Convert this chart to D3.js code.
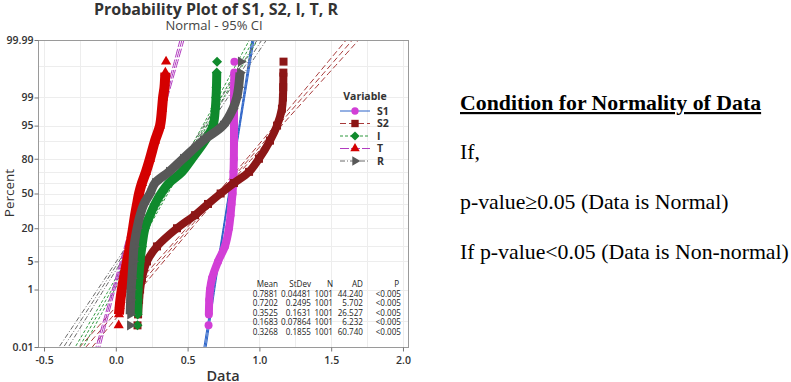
<!DOCTYPE html>
<html><head><meta charset="utf-8">
<script src="https://cdn.jsdelivr.net/npm/d3@7"></script>
<style>
html,body{margin:0;padding:0;background:#fff;}
svg{display:block;}
</style></head><body>
<svg id="c" width="791" height="382"></svg>
<script>
// ---------------- DATA ----------------
const seriesNames = ["S1", "S2", "I", "T", "R"];
// plotting positions (percent) at which each series' quantiles were read
const percentLevels = [0.07, 0.17, 0.5, 1, 2, 5, 10, 20, 30, 40, 50, 60, 70, 80, 90, 95, 98, 99, 99.5, 99.83, 99.93];
const valuesS1 = [0.646, 0.648, 0.651, 0.656, 0.670, 0.712, 0.760, 0.788, 0.799, 0.806, 0.813, 0.817, 0.820, 0.822, 0.823, 0.823, 0.823, 0.823, 0.824, 0.825, 0.826];
const valuesS2 = [0.151, 0.155, 0.162, 0.169, 0.182, 0.217, 0.287, 0.426, 0.552, 0.642, 0.730, 0.823, 0.928, 0.997, 1.074, 1.123, 1.157, 1.164, 1.166, 1.167, 1.168];
const valuesI  = [0.151, 0.152, 0.153, 0.155, 0.160, 0.169, 0.182, 0.203, 0.238, 0.273, 0.315, 0.370, 0.461, 0.530, 0.621, 0.677, 0.693, 0.698, 0.701, 0.703, 0.705];
const valuesT  = [0.020, 0.022, 0.032, 0.042, 0.056, 0.078, 0.099, 0.120, 0.134, 0.148, 0.162, 0.182, 0.210, 0.238, 0.273, 0.308, 0.322, 0.329, 0.339, 0.345, 0.350];
const valuesR  = [0.099, 0.100, 0.103, 0.106, 0.112, 0.120, 0.127, 0.148, 0.169, 0.196, 0.238, 0.273, 0.370, 0.468, 0.607, 0.746, 0.816, 0.843, 0.855, 0.865, 0.871];
const means   = [0.7881, 0.7202, 0.3525, 0.1683, 0.3268];
const stdevs  = [0.04481, 0.2495, 0.1631, 0.07864, 0.1855];
const counts  = [1001, 1001, 1001, 1001, 1001];
const adValues = ["44.240", "5.702", "26.527", "6.232", "60.740"];
const pValues  = ["<0.005", "<0.005", "<0.005", "<0.005", "<0.005"];
const meanLabels  = ["0.7881", "0.7202", "0.3525", "0.1683", "0.3268"];
const stdevLabels = ["0.04481", "0.2495", "0.1631", "0.07864", "0.1855"];
const xTicks = [-0.5, 0, 0.5, 1, 1.5, 2];
const yTickPercents = [0.01, 1, 5, 20, 50, 80, 95, 99, 99.99];
const yTickLabels = ["0.01", "1", "5", "20", "50", "80", "95", "99", "99.99"];
const xGrid = [-0.5, -0.25, 0, 0.25, 0.5, 0.75, 1, 1.25, 1.5, 1.75, 2];
const yGridPercents = [0.1, 1, 5, 10, 20, 30, 40, 50, 60, 70, 80, 90, 95, 99, 99.9];

// ---------------- STYLE ----------------
const styles = [
  {marker: "#d23fd6", line: "#2a62c8", dash: null,      sym: "circle",   size: 50, band: 8},
  {marker: "#8c1616", line: "#a83a3a", dash: "6,3",     sym: "square",   size: 64, band: 8},
  {marker: "#0f8a2c", line: "#2f9a3f", dash: "3,2",     sym: "diamond",  size: 50, band: 9},
  {marker: "#d40000", line: "#b23cc0", dash: "9,2",     sym: "triangle", size: 45, band: 10},
  {marker: "#585858", line: "#6a6a6a", dash: "5,2,1,2", sym: "rtri",     size: 45, band: 9}
];
const seriesValues = [valuesS1, valuesS2, valuesI, valuesT, valuesR];

function qnorm(p){
  const a=[-3.969683028665376e+01,2.209460984245205e+02,-2.759285104469687e+02,1.383577518672690e+02,-3.066479806614716e+01,2.506628277459239e+00];
  const b=[-5.447609879822406e+01,1.615858368580409e+02,-1.556989798598866e+02,6.680131188771972e+01,-1.328068155288572e+01];
  const c=[-7.784894002430293e-03,-3.223964580411365e-01,-2.400758277161838e+00,-2.549732539343734e+00,4.374664141464968e+00,2.938163982698783e+00];
  const d=[7.784695709041462e-03,3.224671290700398e-01,2.445134137142996e+00,3.754408661907416e+00];
  const pl=0.02425, ph=1-pl; let q,r;
  if(p<pl){q=Math.sqrt(-2*Math.log(p));return (((((c[0]*q+c[1])*q+c[2])*q+c[3])*q+c[4])*q+c[5])/((((d[0]*q+d[1])*q+d[2])*q+d[3])*q+1);}
  if(p<=ph){q=p-0.5;r=q*q;return (((((a[0]*r+a[1])*r+a[2])*r+a[3])*r+a[4])*r+a[5])*q/(((((b[0]*r+b[1])*r+b[2])*r+b[3])*r+b[4])*r+1);}
  q=Math.sqrt(-2*Math.log(1-p));return -(((((c[0]*q+c[1])*q+c[2])*q+c[3])*q+c[4])*q+c[5])/((((d[0]*q+d[1])*q+d[2])*q+d[3])*q+1);
}

const L = 38, R = 408, T = 40, B = 347;
const zMax = qnorm(0.9999);
const x = d3.scaleLinear().domain([-0.542, 2.035]).range([L, R]);
const yz = d3.scaleLinear().domain([-zMax, zMax]).range([B, T]);
const yp = p => yz(qnorm(p / 100));

const svg = d3.select("#c");
const font = "'Open Sans', 'Noto Sans', sans-serif";
const txt = "#333";

function symPath(s, size){
  if (s === "circle") return d3.symbol(d3.symbolCircle, size)();
  if (s === "square" || s === "diamond") return d3.symbol(d3.symbolSquare, size)();
  return d3.symbol(d3.symbolTriangle, size)();
}
function symRot(s){ return s === "diamond" ? 45 : (s === "rtri" ? 90 : 0); }

svg.append("clipPath").attr("id", "clip").append("rect")
  .attr("x", L).attr("y", T).attr("width", R - L).attr("height", B - T);

// gridlines
const grid = svg.append("g").attr("stroke", "#ededed").attr("stroke-width", 1);
grid.selectAll("line.gx").data(xGrid).join("line")
  .attr("x1", d => Math.round(x(d)) + 0.5).attr("x2", d => Math.round(x(d)) + 0.5)
  .attr("y1", T).attr("y2", B);
grid.selectAll("line.gy").data(yGridPercents).join("line")
  .attr("x1", L).attr("x2", R)
  .attr("y1", d => Math.round(yp(d)) + 0.5).attr("y2", d => Math.round(yp(d)) + 0.5);

// fitted lines with 95% CI
const zs = d3.range(-3.9, 3.91, 0.1);
const fitG = svg.append("g").attr("clip-path", "url(#clip)");
seriesNames.forEach((name, i) => {
  const m = means[i], s = stdevs[i], n = counts[i], st = styles[i];
  const hw = z => 1.96 * s * Math.sqrt((1 + z * z / 2) / n);
  const mk = f => d3.line().x(z => x(f(z))).y(z => yz(z))(zs);
  [z => m + s * z, z => m + s * z - hw(z), z => m + s * z + hw(z)].forEach(f => {
    fitG.append("path").attr("d", mk(f)).attr("fill", "none")
      .attr("stroke", st.line).attr("stroke-width", 1)
      .attr("stroke-dasharray", st.dash);
  });
});

// data points
const dataG = svg.append("g").attr("clip-path", "url(#clip)");
seriesNames.forEach((name, i) => {
  const st = styles[i];
  const pts = percentLevels.map((p, k) => ({p, v: seriesValues[i][k]}));
  const inner = pts.slice(1, pts.length - 1);
  dataG.append("path")
    .attr("d", d3.line().x(d => x(d.v)).y(d => yp(d.p)).curve(d3.curveCatmullRom.alpha(0.5))(inner))
    .attr("fill", "none").attr("stroke", st.marker).attr("stroke-width", st.band)
    .attr("stroke-linejoin", "round").attr("stroke-linecap", "butt");
  dataG.selectAll(null).data(pts).join("path")
    .attr("d", symPath(st.sym, st.size))
    .attr("transform", d => `translate(${x(d.v)},${yp(d.p)}) rotate(${symRot(st.sym)})`)
    .attr("fill", st.marker);
});

// frame
svg.append("rect").attr("x", L + 0.5).attr("y", T + 0.5).attr("width", R - L).attr("height", B - T)
  .attr("fill", "none").attr("stroke", "#9a9a9a").attr("stroke-width", 1);

// axes
const xAxis = svg.append("g").attr("transform", `translate(0,${B + 0.5})`)
  .call(d3.axisBottom(x).tickValues(xTicks).tickFormat(d => d.toFixed(1)).tickSize(4).tickSizeOuter(0));
xAxis.select(".domain").remove();
xAxis.selectAll("line").attr("stroke", "#777");
xAxis.selectAll("text").attr("font-family", font).attr("font-size", 10.5).attr("font-weight", 600)
  .attr("fill", txt).attr("dy", "0.9em");

const yAxis = svg.append("g").attr("transform", `translate(${L + 0.5},0)`)
  .call(d3.axisLeft(yz).tickValues(yTickPercents.map(p => qnorm(p / 100)))
    .tickFormat((d, k) => yTickLabels[k]).tickSize(4).tickSizeOuter(0));
yAxis.select(".domain").remove();
yAxis.selectAll("line").attr("stroke", "#777");
yAxis.selectAll("text").attr("font-family", font).attr("font-size", 10.5).attr("font-weight", 600)
  .attr("fill", txt).attr("x", -5);

// titles
svg.append("text").attr("x", 216).attr("y", 15).attr("text-anchor", "middle")
  .attr("font-family", font).attr("font-size", 16).attr("font-weight", 700).attr("fill", txt)
  .text("Probability Plot of S1, S2, I, T, R");
svg.append("text").attr("x", 214).attr("y", 30).attr("text-anchor", "middle")
  .attr("font-family", font).attr("font-size", 13).attr("fill", "#444")
  .text("Normal - 95% CI");
svg.append("text").attr("x", 223).attr("y", 380.5).attr("text-anchor", "middle")
  .attr("font-family", font).attr("font-size", 14.5).attr("font-weight", 600).attr("fill", txt)
  .text("Data");
svg.append("text").attr("transform", "translate(14,193) rotate(-90)").attr("text-anchor", "middle")
  .attr("font-family", font).attr("font-size", 13.5).attr("fill", txt)
  .text("Percent");

// legend
const lg = svg.append("g");
lg.append("text").attr("x", 365).attr("y", 100).attr("text-anchor", "middle")
  .attr("font-family", font).attr("font-size", 10.5).attr("font-weight", 700).attr("fill", txt).text("Variable");
seriesNames.forEach((name, i) => {
  const st = styles[i], yy = 111 + i * 12.5;
  lg.append("line").attr("x1", 340).attr("x2", 370).attr("y1", yy).attr("y2", yy)
    .attr("stroke", st.line).attr("stroke-width", 1).attr("stroke-dasharray", st.dash);
  lg.append("path").attr("d", symPath(st.sym, st.size * 0.85))
    .attr("transform", `translate(355,${yy}) rotate(${symRot(st.sym)})`).attr("fill", st.marker);
  lg.append("text").attr("x", 377).attr("y", yy + 3.6)
    .attr("font-family", font).attr("font-size", 10.5).attr("font-weight", 700).attr("fill", txt).text(name);
});

// statistics table
const cols = [
  {h: "Mean", r: 278, hr: 278, vals: meanLabels},
  {h: "StDev", r: 311, hr: 311, vals: stdevLabels},
  {h: "N", r: 333, hr: 333, vals: counts.map(String)},
  {h: "AD", r: 363, hr: 363, vals: adValues},
  {h: "P", r: 401, hr: 399, vals: pValues}
];
const tg = svg.append("g").attr("font-family", font).attr("font-size", 8.1).attr("fill", "#222")
  .attr("text-anchor", "end");
cols.forEach(c => {
  tg.append("text").attr("x", c.hr).attr("y", 287).text(c.h);
  c.vals.forEach((v, k) => tg.append("text").attr("x", c.r).attr("y", 296.5 + k * 9.5).text(v));
});

// right-side notes
const serif = "'Liberation Serif', 'Times New Roman', serif";
svg.append("text").attr("x", 460).attr("y", 110).attr("font-family", serif).attr("font-size", 21.8)
  .attr("font-weight", 700).attr("fill", "#000").attr("text-decoration", "underline")
  .text("Condition for Normality of Data");
svg.append("text").attr("x", 460).attr("y", 159).attr("font-family", serif).attr("font-size", 21.8)
  .attr("fill", "#000").text("If,");
svg.append("text").attr("x", 460).attr("y", 209).attr("font-family", serif).attr("font-size", 21.8)
  .attr("fill", "#000").text("p-value≥0.05 (Data is Normal)");
svg.append("text").attr("x", 460).attr("y", 259).attr("font-family", serif).attr("font-size", 21.8)
  .attr("fill", "#000").text("If p-value<0.05 (Data is Non-normal)");
</script>
</body></html>
